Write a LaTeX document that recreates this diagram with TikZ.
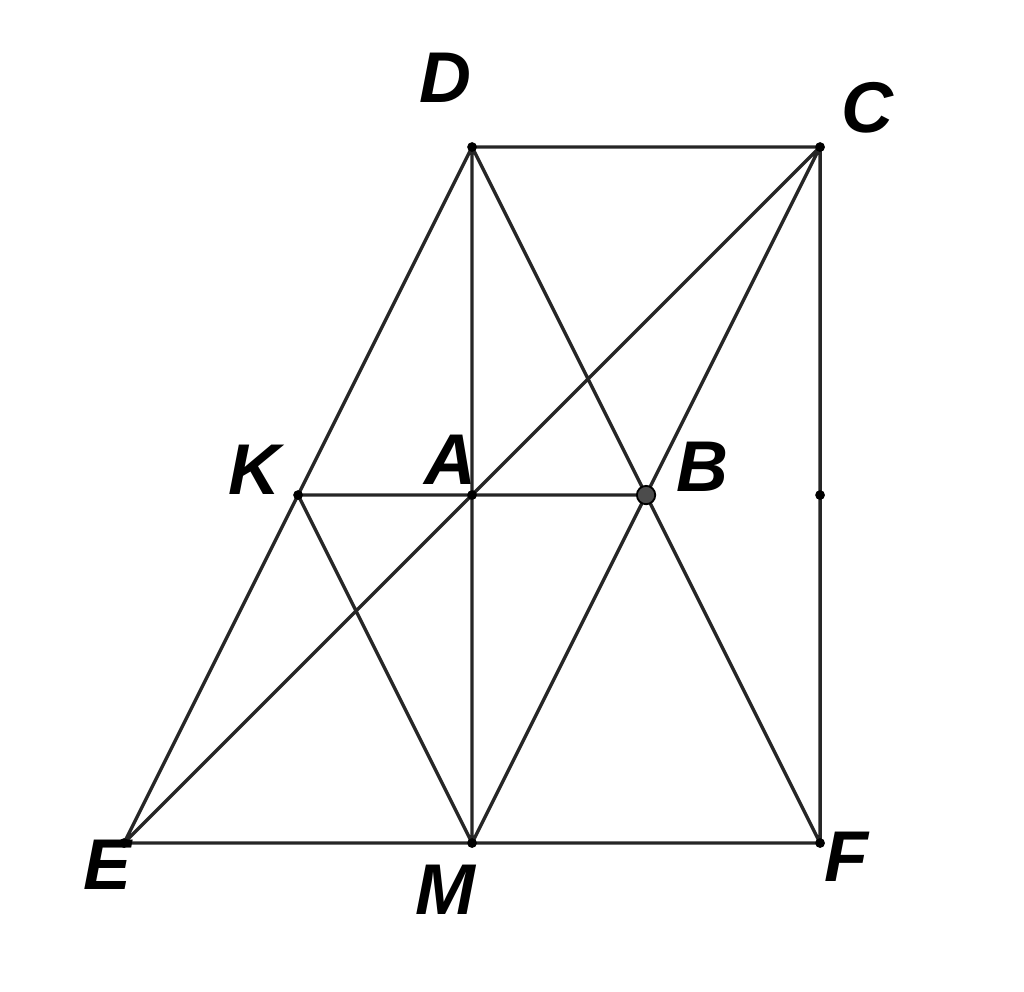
\documentclass[tikz,border=0pt]{standalone}
\usepackage{fontspec}
\setmainfont{Liberation Sans}
\usetikzlibrary{positioning}

\tikzset{
  pt/.style={circle, fill=black, inner sep=0pt, minimum size=3.2pt},
  bigpt/.style={circle, draw=black, fill=black!70, line width=0.6pt, inner sep=0pt, minimum size=6pt},
  lbl/.style={font=\fontsize{23.5}{28}\selectfont\bfseries\itshape, inner sep=0pt}
}

\begin{document}
\begin{tikzpicture}[x=2cm, y=2cm, line width=1.1pt, line join=round]
  \useasboundingbox (-2.713,-2.856) rectangle (3.172,2.845);
  % points
  \coordinate (D) at (0,2);
  \coordinate (C) at (2,2);
  \coordinate (K) at (-1,0);
  \coordinate (A) at (0,0);
  \coordinate (B) at (1,0);
  \coordinate (N) at (2,0);
  \coordinate (E) at (-2,-2);
  \coordinate (M) at (0,-2);
  \coordinate (F) at (2,-2);
  % segments
  \draw[black!85] (D) -- (C) -- (F) -- (E) -- (D) -- (M) -- (K) -- (B) -- (M) -- (C) -- (E)
        (D) -- (F);
  % dots
  \foreach \p in {D,C,K,A,N,E,M,F}
    \node[pt] at (\p) {};
  \node[bigpt] at (B) {};
  % labels
  \node[lbl] (lD) at (-0.155,2.40) {D};
  \node[lbl] (lC) at (2.27,2.223) {C};
  \node[lbl] (lK) at (-1.253,0.144) {K};
  \node[lbl] (lA) at (-0.126,0.201) {A};
  \node[lbl] (lB) at (1.322,0.161) {B};
  \node[lbl] (lE) at (-2.098,-2.126) {E};
  \node[lbl] (lM) at (-0.155,-2.27) {M};
  \node[lbl] (lF) at (2.149,-2.08) {F};
\end{tikzpicture}
\end{document}
